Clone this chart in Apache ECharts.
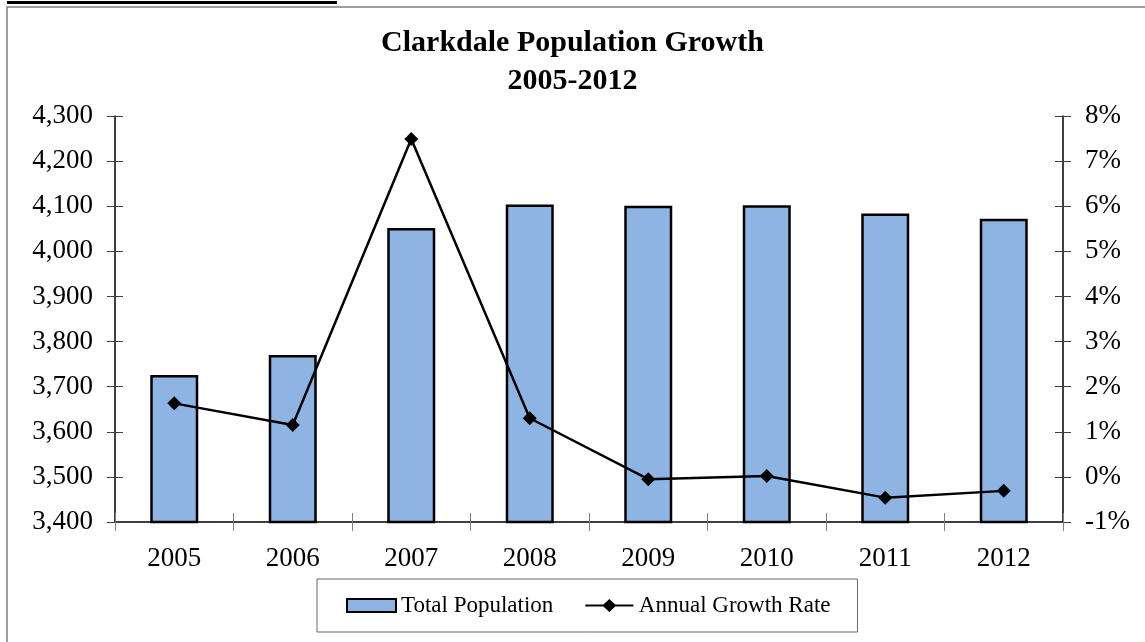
<!DOCTYPE html>
<html>
<head>
<meta charset="utf-8">
<script src="https://cdn.jsdelivr.net/npm/echarts@6/dist/echarts.min.js"></script>
<style>
html,body{margin:0;padding:0;background:#fff;}
#chart{width:1145px;height:642px;}
</style>
</head>
<body>
<div id="chart"></div>
<script>
// ---- data ----
const years = ['2005','2006','2007','2008','2009','2010','2011','2012'];
const totalPopulation = [3726, 3770, 4052, 4104, 4101, 4102, 4084, 4072];
const annualGrowthRate = [1.63, 1.15, 7.49, 1.30, -0.05, 0.02, -0.46, -0.31];
const titleLines = ['Clarkdale Population Growth', '2005-2012'];
const seriesNames = ['Total Population', 'Annual Growth Rate'];

const FONT = "'Liberation Serif', 'Times New Roman', serif";
const chart = echarts.init(document.getElementById('chart'), null, {renderer: 'canvas'});

const leftAxisBase = {
  type: 'value', position: 'left', min: 3400, max: 4300, interval: 100,
  splitLine: {show: false}
};
const rightAxisBase = {
  type: 'value', position: 'right', min: -1, max: 8, interval: 1,
  splitLine: {show: false}
};

chart.setOption({
  backgroundColor: '#ffffff',
  animation: false,
  title: {
    text: titleLines.join('\n'),
    left: 'center', top: 19,
    textStyle: {fontFamily: FONT, fontSize: 30, fontWeight: 'bold', color: '#000', lineHeight: 38}
  },
  graphic: [
    {type: 'rect', shape: {x: 7, y: 7, width: 1300, height: 800},
     style: {fill: 'none', stroke: '#7f7f7f', lineWidth: 1.5}, silent: true},
    {type: 'rect', shape: {x: 7, y: 1, width: 330, height: 3},
     style: {fill: '#000'}, silent: true}
  ],
  legend: {
    left: 317, top: 579,
    padding: [15, 27, 15, 29],
    borderColor: '#666', borderWidth: 1,
    itemWidth: 49, itemHeight: 13, itemGap: 32,
    textStyle: {fontFamily: FONT, fontSize: 23, color: '#000'},
    data: [
      {name: seriesNames[0], icon: 'rect'},
      {name: seriesNames[1],
       icon: 'path://M0,5.5 L18,5.5 L24,0 L30,5.5 L48,5.5 L48,7.5 L30,7.5 L24,13 L18,7.5 L0,7.5 Z'}
    ]
  },
  grid: {left: 115, right: 82, top: 116, bottom: 120},
  xAxis: [
    {
      type: 'category', data: years, position: 'bottom',
      axisLine: {onZero: false, lineStyle: {color: '#000', width: 1.5}},
      axisTick: {show: true, inside: false, length: 9, lineStyle: {color: '#808080'}},
      axisLabel: {fontFamily: FONT, fontSize: 27, color: '#000', margin: 23}
    },
    {
      type: 'category', data: years, position: 'bottom',
      axisLine: {show: false, onZero: false},
      axisTick: {show: true, inside: true, length: 9, lineStyle: {color: '#808080'}},
      axisLabel: {show: false}
    }
  ],
  yAxis: [
    Object.assign({}, leftAxisBase, {
      axisLine: {show: true, lineStyle: {color: '#000', width: 1.5}},
      axisTick: {show: true, inside: false, length: 8, lineStyle: {color: '#404040'}},
      axisLabel: {fontFamily: FONT, fontSize: 27, color: '#000', margin: 22,
        formatter: v => v.toLocaleString('en-US')}
    }),
    Object.assign({}, rightAxisBase, {
      axisLine: {show: true, lineStyle: {color: '#000', width: 1.5}},
      axisTick: {show: true, inside: false, length: 8, lineStyle: {color: '#404040'}},
      axisLabel: {fontFamily: FONT, fontSize: 27, color: '#000', margin: 22,
        formatter: '{value}%'}
    }),
    Object.assign({}, leftAxisBase, {
      axisLine: {show: false},
      axisTick: {show: true, inside: true, length: 8, lineStyle: {color: '#404040'}},
      axisLabel: {show: false}
    }),
    Object.assign({}, rightAxisBase, {
      axisLine: {show: false},
      axisTick: {show: true, inside: true, length: 8, lineStyle: {color: '#404040'}},
      axisLabel: {show: false}
    })
  ],
  series: [
    {
      name: seriesNames[0], type: 'bar', xAxisIndex: 0, yAxisIndex: 0,
      data: totalPopulation, barWidth: 48,
      itemStyle: {color: '#8eb4e3', borderColor: '#000', borderWidth: 2.5}
    },
    {
      name: seriesNames[1], type: 'line', xAxisIndex: 0, yAxisIndex: 1,
      data: annualGrowthRate,
      symbol: 'diamond', symbolSize: 14,
      lineStyle: {color: '#000', width: 2.5},
      itemStyle: {color: '#000'}
    }
  ]
});
</script>
</body>
</html>
